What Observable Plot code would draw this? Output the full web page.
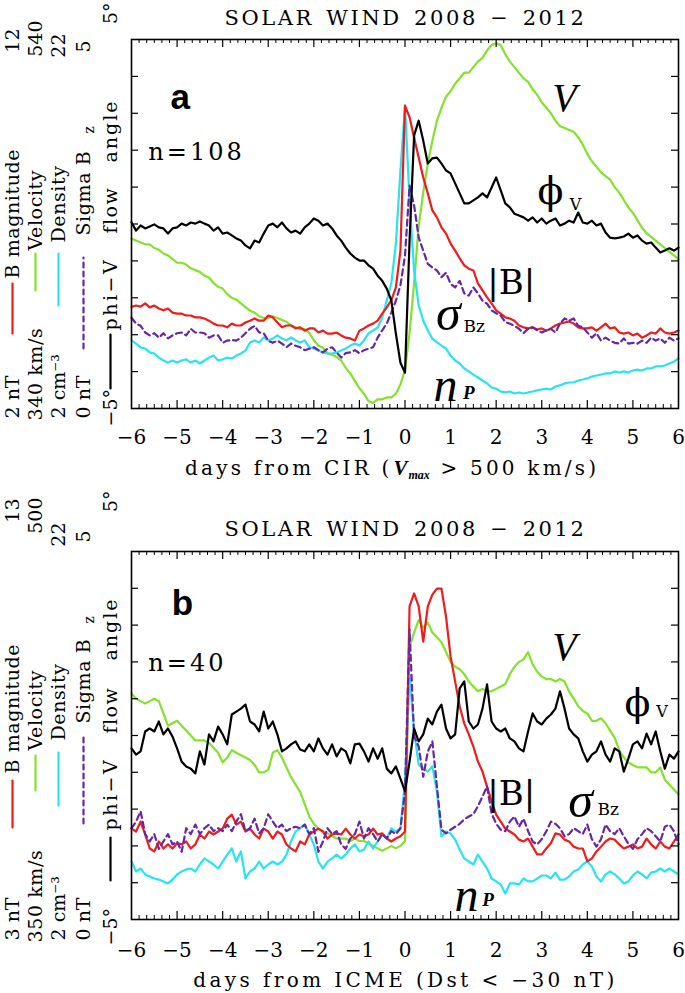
<!DOCTYPE html>
<html><head><meta charset="utf-8">
<script src="https://cdn.jsdelivr.net/npm/d3@7"></script>
<script src="https://cdn.jsdelivr.net/npm/@observablehq/plot@0.6"></script>
<style>
html,body{margin:0;padding:0;background:#fff}
#chart{width:685px;height:993px;overflow:hidden}
#chart svg{display:block}
</style></head><body><div id="chart"></div>
<script>
// ---------- sampling grid (days from event, every 0.1 day) ----------
const days = Array.from({length: 121}, (_, i) => (i - 60) / 10);
const xMajor = [-6,-5,-4,-3,-2,-1,0,1,2,3,4,5,6];
const xMinor = Array.from({length: 73}, (_, i) => -6 + i / 6).filter(v => Math.abs(v - Math.round(v)) > 1e-6);
const yTicks = [1,2,3,4,5,6,7,8,9];

// ---------- axis ranges (bottom / top labels) ----------
const rangeA = {B: [2, 12], V: [340, 540], N: [2, 22], S: [0, 5], P: [-5, 5]};
const rangeB = {B: [3, 13], V: [350, 500], N: [2, 22], S: [0, 5], P: [-5, 5]};

// ---------- panel a : CIR ----------
const bA = [4.75,4.79,4.76,4.85,4.74,4.79,4.71,4.66,4.71,4.60,
 4.57,4.57,4.52,4.52,4.47,4.47,4.44,4.38,4.30,4.25,
 4.25,4.20,4.30,4.25,4.25,4.33,4.38,4.44,4.38,4.38,
 4.52,4.47,4.33,4.20,4.25,4.25,4.17,4.20,4.11,4.17,
 4.17,4.06,4.11,4.03,4.03,4.06,3.98,3.92,3.90,3.84,
 4.11,4.17,4.25,4.30,4.38,4.57,4.74,4.93,5.28,6.28,
 10.21,9.89,9.34,8.80,8.26,7.83,7.37,7.18,6.91,6.74,
 6.47,6.28,6.07,5.88,5.79,5.74,5.39,5.20,5.01,4.85,
 4.66,4.57,4.47,4.44,4.38,4.25,4.20,4.17,4.20,4.14,
 4.17,4.11,4.17,4.25,4.30,4.33,4.36,4.30,4.20,4.17,
 4.17,4.20,4.11,4.20,4.30,4.17,4.20,4.06,4.03,4.06,
 3.98,4.03,3.92,3.98,4.06,4.03,4.17,4.06,4.03,4.06,
 4.11];
const vA = [432,431,430,429,429,427,426,424,423,421,
 419,419,418,416,415,414,412,411,408,406,
 405,402,400,399,397,395,393,392,390,389,
 389,390,389,388,387,385,384,383,383,381,
 377,374,373,370,369,368,366,362,359,355,
 351,348,344,343,345,345,346,346,348,353,
 361,381,408,439,457,473,485,496,503,509,
 512,516,519,522,522,525,528,530,534,537,
 538,537,532,528,525,522,519,517,513,510,
 506,503,500,496,493,492,491,490,487,483,
 478,474,471,468,466,464,460,457,453,449,
 446,442,438,435,433,431,429,427,425,423,
 421];
const nA = [5.69,5.52,5.31,5.25,5.04,4.98,4.76,4.60,4.49,4.60,
 4.49,4.60,4.66,4.49,4.60,4.44,4.60,4.76,4.87,4.60,
 4.66,4.76,4.71,4.87,4.98,5.14,5.58,5.69,5.58,5.85,
 5.69,5.79,5.96,5.79,5.69,5.85,5.69,5.58,5.69,5.31,
 5.25,5.14,5.04,4.98,4.98,5.04,5.14,5.25,5.41,5.52,
 5.41,5.69,6.07,6.23,6.39,6.93,7.85,8.78,10.94,14.90,
 18.42,13.27,9.48,7.58,6.77,6.23,5.79,5.58,5.41,5.25,
 4.87,4.60,4.44,4.17,4.01,3.84,3.68,3.52,3.36,3.14,
 3.08,2.92,2.87,2.92,2.81,2.87,2.81,2.87,2.92,2.98,
 3.03,3.08,3.03,3.19,3.25,3.36,3.41,3.41,3.52,3.57,
 3.63,3.73,3.79,3.84,3.90,3.90,4.01,3.95,4.01,3.95,
 4.06,4.11,4.06,4.17,4.17,4.28,4.28,4.33,4.44,4.55,
 4.71];
const sA = [1.23,1.15,1.12,1.03,0.99,1.02,0.96,1.02,0.95,0.99,
 1.02,1.03,0.99,1.08,1.03,1.03,1.02,0.96,0.99,0.99,
 0.89,0.92,0.93,0.92,0.96,1.02,1.08,1.12,1.03,1.02,
 0.92,0.89,0.92,0.88,0.83,0.88,0.85,0.83,0.79,0.81,
 0.83,0.79,0.76,0.81,0.83,0.76,0.69,0.75,0.76,0.79,
 0.75,0.79,0.81,0.83,0.96,1.06,1.15,1.30,1.46,1.67,
 2.07,3.02,2.75,2.32,2.14,1.96,1.91,1.87,1.78,1.84,
 1.69,1.64,1.73,1.56,1.53,1.64,1.56,1.46,1.42,1.33,
 1.29,1.26,1.17,1.15,1.12,1.08,1.02,1.08,1.10,1.06,
 1.03,1.06,1.08,1.03,1.15,1.22,1.19,1.22,1.12,1.10,
 1.03,0.96,1.02,0.92,0.96,0.92,0.89,0.88,0.95,0.88,
 0.89,0.88,0.92,0.89,0.96,0.92,0.95,0.89,0.96,0.92,
 0.95];
const pA = [0.05,-0.18,-0.04,-0.12,-0.07,-0.01,-0.09,-0.12,-0.26,-0.12,
 -0.09,0.01,-0.04,0.04,0.01,0.07,0.01,-0.04,-0.18,-0.09,
 -0.26,-0.23,-0.31,-0.39,-0.45,-0.58,-0.66,-0.45,-0.50,-0.26,
 -0.04,0.01,-0.09,0.04,-0.12,-0.23,-0.18,-0.26,-0.09,0.01,
 0.15,0.09,-0.04,0.01,-0.12,-0.31,-0.45,-0.64,-0.80,-0.91,
 -0.99,-0.99,-1.12,-1.21,-1.40,-1.54,-1.75,-2.07,-2.97,-3.76,
 -4.03,-0.45,2.40,2.80,2.26,1.64,1.78,1.80,1.64,1.45,
 1.37,1.10,0.83,0.56,0.56,0.64,0.72,0.83,0.72,0.99,
 1.26,0.91,0.56,0.45,0.28,0.23,0.18,0.09,0.18,0.04,
 0.15,0.01,0.09,0.15,-0.04,0.01,0.09,0.04,0.31,0.04,
 0.01,0.09,-0.04,0.01,-0.23,-0.37,-0.39,-0.37,-0.34,-0.26,
 -0.37,-0.31,-0.45,-0.53,-0.50,-0.64,-0.77,-0.72,-0.66,-0.72,
 -0.64];

// ---------- panel b : ICME ----------
const bB = [5.47,5.39,5.66,5.31,4.93,4.85,5.12,4.93,5.04,4.93,
 5.07,5.04,5.12,4.93,5.04,5.31,5.20,5.39,5.31,5.39,
 5.47,5.74,5.85,5.58,5.66,5.39,5.47,5.31,5.20,5.47,
 5.39,5.20,5.39,5.31,5.04,4.93,4.85,5.12,5.04,5.31,
 5.39,5.47,5.39,5.20,5.31,5.34,5.31,5.47,5.31,5.20,
 5.31,5.26,5.31,5.47,5.31,5.34,5.20,5.12,5.20,5.26,
 5.39,11.51,11.86,11.51,10.55,11.51,11.83,11.99,11.99,11.23,
 10.15,9.47,8.79,8.33,8.03,7.70,7.29,7.02,6.61,6.21,
 5.85,5.66,5.47,5.39,5.31,5.17,5.12,5.20,4.98,4.77,
 4.77,4.93,5.07,5.34,5.31,5.17,5.12,4.98,4.93,4.93,
 4.58,4.66,4.85,4.98,5.12,5.20,5.17,5.04,4.93,4.98,
 5.04,4.93,4.98,5.20,5.04,4.93,5.12,4.98,4.93,5.12,
 5.31];
const vB = [442,440,439,438,439,440,439,434,429,430,
 431,429,427,425,423,423,423,422,420,418,
 414,416,419,418,417,416,415,413,410,410,
 411,418,419,416,412,408,405,402,397,392,
 389,387,386,385,384,383,383,383,382,383,
 382,382,381,380,379,378,379,380,379,380,
 382,461,467,472,469,471,467,465,463,459,
 455,453,452,450,447,445,443,444,443,443,
 444,445,446,450,453,455,456,459,454,451,
 449,448,448,447,448,447,443,440,437,435,
 434,431,431,432,430,427,424,419,416,414,
 413,412,412,412,410,410,412,407,405,403,
 401];
const nB = [5.15,4.61,4.77,4.45,4.34,4.23,4.17,4.07,3.96,4.17,
 4.45,4.61,4.72,4.77,4.61,4.99,5.32,5.15,4.99,4.77,
 5.15,5.53,5.86,5.15,5.70,4.23,4.61,4.77,5.15,4.77,
 4.99,5.15,4.99,5.15,5.53,6.24,6.78,6.95,7.16,6.62,
 6.08,5.15,4.77,5.15,5.32,5.53,5.32,5.53,5.86,6.08,
 5.70,5.80,6.24,5.86,6.24,6.62,6.40,6.95,6.78,6.95,
 9.50,15.30,12.22,10.42,10.21,10.04,10.32,8.96,6.51,6.78,
 6.67,6.35,5.80,5.32,5.15,4.99,5.53,5.15,4.77,4.23,
 4.07,3.90,3.41,3.96,3.96,3.90,4.23,4.07,4.07,4.23,
 4.39,4.39,4.23,4.55,4.17,4.17,4.34,4.61,4.72,4.99,
 5.15,4.88,4.34,4.07,4.45,4.61,4.45,4.23,3.96,4.07,
 4.39,4.61,4.45,4.23,4.55,4.61,4.77,4.61,4.77,4.61,
 4.45];
const sB = [1.24,1.33,1.47,1.16,1.06,1.16,0.96,1.06,1.16,1.02,
 1.06,0.92,1.24,1.16,1.29,1.16,1.24,1.29,1.20,1.24,
 1.20,1.29,1.20,1.33,1.43,1.20,1.24,1.37,1.17,1.24,
 1.43,1.33,1.24,1.29,1.20,1.24,1.26,1.24,1.29,1.16,
 1.24,0.92,1.06,1.24,1.16,1.20,1.02,0.96,1.10,1.16,
 1.33,1.10,1.24,1.16,1.06,1.16,1.10,1.20,1.16,1.24,
 1.74,3.94,2.49,2.35,1.94,2.28,2.42,1.81,1.22,1.17,
 1.22,1.26,1.30,1.36,1.40,1.43,1.54,1.67,1.81,1.44,
 1.30,1.22,1.20,1.33,1.40,1.26,1.37,1.20,1.06,1.02,
 1.09,1.20,1.33,1.30,1.24,1.13,1.16,1.24,1.20,1.16,
 1.29,1.09,0.99,1.09,1.29,1.20,1.16,1.24,1.13,1.03,
 0.96,1.09,1.16,1.24,1.20,1.13,1.06,1.26,1.29,1.20,
 1.02];
const pB = [-0.35,-0.52,-0.43,0.11,0.19,0.11,0.38,0.03,0.19,-0.03,
 -0.35,-0.71,-0.84,-0.90,-1.03,-0.43,-0.79,0.03,-0.16,0.24,
 0.03,-0.24,0.57,0.65,0.73,0.84,0.38,0.30,0.11,0.65,
 0.19,0.38,0.03,-0.43,-0.35,-0.24,-0.16,-0.38,-0.43,-0.24,
 -0.43,-0.08,-0.35,-0.52,-0.24,-0.57,-0.35,-0.43,-0.76,-0.24,
 -0.22,-0.43,-0.71,-0.35,-0.63,-0.35,-0.90,-1.03,-0.84,-1.17,
 -1.52,-0.71,0.19,-0.16,0.03,0.46,0.30,0.65,0.84,0.19,
 -0.08,0.03,1.28,1.47,0.38,0.19,0.30,0.73,1.39,0.38,
 0.19,0.11,0.19,-0.08,-0.16,-0.35,-0.43,0.11,0.60,0.38,
 0.30,0.46,0.57,0.73,1.20,0.73,0.19,0.03,-0.08,-0.43,
 -0.71,-0.52,-0.43,-0.16,-0.52,-0.71,-0.35,-0.43,-0.98,-0.63,
 -0.24,-0.16,-0.35,0.05,-0.24,0.11,-0.43,-0.90,-0.52,-0.63,
 -0.43];

// ---------- colours / fonts ----------
const RED = "#f21a1a", GREEN = "#84e22c", CYAN = "#26e4f2", PURPLE = "#6626a8", BLACK = "#000";
const SERIF = "DejaVu Serif", TIMES = "Liberation Serif", SANS = "Liberation Sans";

const fmtTick = d => d < 0 ? "\u2212" + (-d) : String(d);

function makePanel(p) {
  const W = 685, ML = 131, MR = 7, MT = p.mt, MB = p.mb, H = p.height;
  const FW = W - ML - MR, FH = H - MT - MB;
  const at = (px, py) => ({frameAnchor: "top-left", dx: px - ML, dy: py - MT});
  const norm = (vals, r) => vals.map((v, i) => ({day: days[i], u: (v - r[0]) / (r[1] - r[0]) * 10}));
  const marks = [];
  for (const s of p.series) {
    marks.push(Plot.line(norm(s.vals, s.range), {x: "day", y: "u", stroke: s.stroke, strokeWidth: 2.2,
      strokeDasharray: s.dash}));
  }
  marks.push(Plot.frame({stroke: BLACK, strokeWidth: 1.6}));
  marks.push(Plot.tickX(xMajor.slice(1, -1), {x: d => d, insetTop: FH - 8, strokeWidth: 1.2}));
  marks.push(Plot.tickX(xMajor.slice(1, -1), {x: d => d, insetBottom: FH - 8, strokeWidth: 1.2}));
  marks.push(Plot.tickX(xMinor, {x: d => d, insetTop: FH - 4, strokeWidth: 1}));
  marks.push(Plot.tickX(xMinor, {x: d => d, insetBottom: FH - 4, strokeWidth: 1}));
  marks.push(Plot.tickY(yTicks, {y: d => d, insetRight: FW - 7, strokeWidth: 1.2}));
  marks.push(Plot.tickY(yTicks, {y: d => d, insetLeft: FW - 7, strokeWidth: 1.2}));
  marks.push(Plot.text(xMajor, {x: d => d, frameAnchor: "bottom", dy: p.tickDy, text: fmtTick,
    fontSize: 20, lineAnchor: "middle"}));
  marks.push(Plot.text([p.title], {...at(p.titleX, p.titleY), textAnchor: "middle", fontSize: 21, lineAnchor: "middle"}));
  for (const t of p.xTitle) {
    marks.push(Plot.text([t.t], {...at(t.x, t.y), textAnchor: t.anchor || "start", lineAnchor: "bottom",
      fontSize: t.size || 20, fontStyle: t.style, fontWeight: t.weight, fontFamily: t.font || SERIF}));
  }
  for (const c of p.cols) {
    for (const w of c.words) {
      marks.push(Plot.text([w.t], {...at(c.x + (w.dx || 0), w.y), rotate: -90, textAnchor: w.end ? "end" : "start",
        lineAnchor: "middle", fontSize: w.size || 19}));
    }
    marks.push(Plot.vector([0], {...at(c.x, c.line[0]), length: c.line[0] - c.line[1], rotate: 0, anchor: "start",
      stroke: c.color, strokeWidth: 2.2, strokeDasharray: c.dash,
      shape: {draw(ctx, l) { ctx.moveTo(0, 0); ctx.lineTo(0, -l); }}}));
  }
  for (const a of p.notes) {
    marks.push(Plot.text([a.t], {x: () => a.x, y: () => a.u, textAnchor: a.anchor || "middle", lineAnchor: "middle",
      fontSize: a.size, fontFamily: a.font || SERIF, fontStyle: a.style, fontWeight: a.weight}));
  }
  return Plot.plot({width: W, height: H, marginLeft: ML, marginRight: MR, marginTop: MT, marginBottom: MB,
    x: {domain: [-6, 6], axis: null}, y: {domain: [0, 10], axis: null},
    style: {fontFamily: SERIF, fontSize: "18px", background: "white", color: "black", overflow: "visible"},
    marks});
}

const TITLE = "SOLAR WIND 2008 \u2212 2012";
const cm3 = "2 cm\u207B\u00B3";

const panelA = makePanel({
  height: 496, mt: 39, mb: 88, tickDy: 29, title: TITLE, titleX: 405, titleY: 18,
  series: [
    {vals: vA, range: rangeA.V, stroke: GREEN},
    {vals: nA, range: rangeA.N, stroke: CYAN},
    {vals: bA, range: rangeA.B, stroke: RED},
    {vals: sA, range: rangeA.S, stroke: PURPLE, dash: "6,4"},
    {vals: pA, range: rangeA.P, stroke: BLACK}
  ],
  xTitle: [
    {t: "days from CIR (", x: 392, y: 474, anchor: "end"},
    {t: "V", x: 393, y: 474, style: "italic", weight: "bold", font: TIMES, size: 21},
    {t: "max", x: 408, y: 478, style: "italic", weight: "bold", font: TIMES, size: 12},
    {t: "> 500 km/s)", x: 440, y: 474}
  ],
  cols: [
    {x: 12, line: [333, 283], color: RED, words: [
      {t: "2 nT", y: 418}, {t: "B magnitude", y: 278}, {t: "12", y: 28, end: true}]},
    {x: 35, line: [290, 253], color: GREEN, words: [
      {t: "340 km/s", y: 420}, {t: "Velocity", y: 250}, {t: "540", y: 20, end: true}]},
    {x: 58, line: [305, 253], color: CYAN, words: [
      {t: cm3, y: 418}, {t: "Density", y: 242}, {t: "22", y: 33, end: true}]},
    {x: 83, line: [348, 257], color: PURPLE, dash: "5,4", words: [
      {t: "0 nT", y: 418}, {t: "Sigma B", y: 235}, {t: "z", y: 133, dx: 6, size: 14}, {t: "5", y: 40, end: true}]},
    {x: 110, line: [388, 334], color: BLACK, words: [
      {t: "\u22125\u00B0", y: 426}, {t: "phi\u2212V", y: 330}, {t: "flow", y: 233}, {t: "angle", y: 162}, {t: "5\u00B0", y: 2, end: true}]}
  ],
  notes: [
    {t: "a", x: -4.93, u: 8.43, size: 35, font: SANS, weight: "bold"},
    {t: "n=108", x: -5.63, u: 6.94, size: 24, anchor: "start"},
    {t: "V", x: 3.50, u: 8.40, size: 40, font: TIMES, style: "italic"},
    {t: "\u03D5", x: 3.19, u: 5.86, size: 38, font: SERIF},
    {t: "V", x: 3.74, u: 5.53, size: 16},
    {t: "|B|", x: 2.33, u: 3.41, size: 34},
    {t: "\u03C3", x: 0.95, u: 2.55, size: 50, font: TIMES, style: "italic"},
    {t: "Bz", x: 1.52, u: 2.22, size: 17},
    {t: "n", x: 0.89, u: 0.62, size: 48, font: TIMES, style: "italic"},
    {t: "P", x: 1.40, u: 0.43, size: 19, font: TIMES, style: "italic", weight: "bold"}
  ]
});

const OB = 496; // panel b svg offset on the page
const panelB = makePanel({
  height: 497, mt: 551 - OB, mb: 993 - 919, tickDy: 31, title: TITLE, titleX: 405, titleY: 529 - OB,
  series: [
    {vals: vB, range: rangeB.V, stroke: GREEN},
    {vals: nB, range: rangeB.N, stroke: CYAN},
    {vals: bB, range: rangeB.B, stroke: RED},
    {vals: sB, range: rangeB.S, stroke: PURPLE, dash: "6,4"},
    {vals: pB, range: rangeB.P, stroke: BLACK}
  ],
  xTitle: [
    {t: "days from ICME (Dst < \u221230 nT)", x: 405, y: 986 - OB, anchor: "middle"}
  ],
  cols: [
    {x: 12, line: [827 - OB, 780 - OB], color: RED, words: [
      {t: "3 nT", y: 940 - OB}, {t: "B magnitude", y: 773 - OB}, {t: "13", y: 498 - OB, end: true}]},
    {x: 35, line: [790 - OB, 755 - OB], color: GREEN, words: [
      {t: "350 km/s", y: 942 - OB}, {t: "Velocity", y: 750 - OB}, {t: "500", y: 497 - OB, end: true}]},
    {x: 58, line: [805 - OB, 752 - OB], color: CYAN, words: [
      {t: cm3, y: 940 - OB}, {t: "Density", y: 740 - OB}, {t: "22", y: 522 - OB, end: true}]},
    {x: 83, line: [823 - OB, 733 - OB], color: PURPLE, dash: "5,4", words: [
      {t: "0 nT", y: 940 - OB}, {t: "Sigma B", y: 723 - OB}, {t: "z", y: 623 - OB, dx: 6, size: 14}, {t: "5", y: 530 - OB, end: true}]},
    {x: 110, line: [880 - OB, 837 - OB], color: BLACK, words: [
      {t: "\u22125\u00B0", y: 945 - OB}, {t: "phi\u2212V", y: 830 - OB}, {t: "flow", y: 733 - OB}, {t: "angle", y: 660 - OB}, {t: "5\u00B0", y: 490 - OB, end: true}]}
  ],
  notes: [
    {t: "b", x: -4.88, u: 8.59, size: 35, font: SANS, weight: "bold"},
    {t: "n=40", x: -5.63, u: 6.96, size: 24, anchor: "start"},
    {t: "V", x: 3.50, u: 7.39, size: 40, font: TIMES, style: "italic"},
    {t: "\u03D5", x: 5.10, u: 5.87, size: 38, font: SERIF},
    {t: "V", x: 5.64, u: 5.63, size: 16},
    {t: "|B|", x: 2.33, u: 3.42, size: 34},
    {t: "\u03C3", x: 3.85, u: 3.23, size: 50, font: TIMES, style: "italic"},
    {t: "Bz", x: 4.46, u: 2.99, size: 17},
    {t: "n", x: 1.35, u: 0.65, size: 48, font: TIMES, style: "italic"},
    {t: "P", x: 1.82, u: 0.52, size: 19, font: TIMES, style: "italic", weight: "bold"}
  ]
});

const root = document.getElementById("chart");
root.append(panelA, panelB);
// the original vector font is wide: widen spacing of the longer texts
const spacing = new Map([
  [TITLE, 2.6], ["days from CIR (", 3.2], ["> 500 km/s)", 3.2], ["days from ICME (Dst < \u221230 nT)", 3.4],
  ["n=108", 3], ["n=40", 3], ["B magnitude", 0.6], ["340 km/s", 0.6], ["350 km/s", 0.6], ["Velocity", 0.6],
  ["Density", 0.6], ["Sigma B", 0.6], ["phi\u2212V", 2.5], ["flow", 1.5], ["angle", 2]
]);
for (const t of root.querySelectorAll("text")) {
  const s = spacing.get(t.textContent);
  if (s != null) t.setAttribute("letter-spacing", s);
  if (t.textContent === TITLE) t.setAttribute("word-spacing", 3);
}
</script></body></html>
